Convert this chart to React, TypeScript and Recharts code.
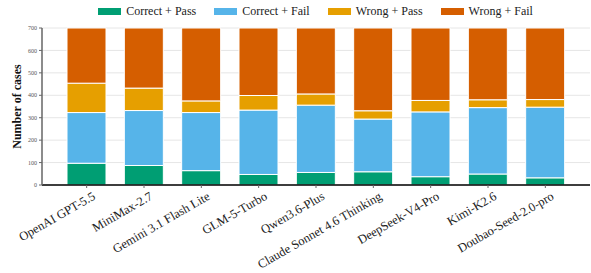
import React from "react";
import { BarChart, Bar, XAxis, YAxis, CartesianGrid, Legend } from "recharts";

const models = [
  "OpenAI GPT-5.5",
  "MiniMax-2.7",
  "Gemini 3.1 Flash Lite",
  "GLM-5-Turbo",
  "Qwen3.6-Plus",
  "Claude Sonnet 4.6 Thinking",
  "DeepSeek-V4-Pro",
  "Kimi-K2.6",
  "Doubao-Seed-2.0-pro",
];
const correctPass = [97, 87, 64, 47, 56, 59, 37, 49, 32];
const correctFail = [226, 245, 259, 287, 300, 235, 289, 296, 315];
const wrongPass = [131, 100, 52, 65, 50, 37, 51, 35, 34];
const wrongFail = [246, 268, 325, 301, 294, 369, 323, 320, 319];
const yTicks = [0, 100, 200, 300, 400, 500, 600, 700];

const series = [
  { key: "cp", name: "Correct + Pass", color: "#009E73" },
  { key: "cf", name: "Correct + Fail", color: "#56B4E9" },
  { key: "wp", name: "Wrong + Pass", color: "#E69F00" },
  { key: "wf", name: "Wrong + Fail", color: "#D55E00" },
];

const data = models.map((m, i) => ({
  model: m,
  cp: correctPass[i],
  cf: correctFail[i],
  wp: wrongPass[i],
  wf: wrongFail[i],
}));

const FONT = '"Liberation Serif", "Times New Roman", serif';

const XTick = (props: any) => {
  const { x, y, payload } = props;
  const ax = x + 5;
  const ay = y + 1;
  return (
    <text
      x={ax}
      y={ay}
      transform={`rotate(-30, ${ax}, ${ay})`}
      textAnchor="end"
      dominantBaseline="hanging"
      fontFamily={FONT}
      fontSize={12.5}
      fill="#222"
    >
      {payload.value}
    </text>
  );
};

const LegendContent = () => (
  <div
    style={{
      width: 591,
      height: 24,
      display: "flex",
      justifyContent: "center",
      paddingLeft: 58,
      boxSizing: "border-box",
      fontFamily: FONT,
      fontSize: 12,
      color: "#222",
    }}
  >
    {series.map((s) => (
      <div
        key={s.key}
        style={{ display: "flex", alignItems: "center", marginRight: 18, height: 24, marginTop: -1 }}
      >
        <span
          style={{ display: "inline-block", width: 23, height: 7, background: s.color, marginRight: 5 }}
        />
        <span>{s.name}</span>
      </div>
    ))}
  </div>
);

export default function App() {
  return (
    <div style={{ position: "absolute", left: 0, top: 0 }}>
      <BarChart
        width={591}
        height={273}
        data={data}
        margin={{ top: 4, right: 1, bottom: 0, left: 0 }}
        barSize={39}
      >
        <Legend verticalAlign="top" content={<LegendContent />} wrapperStyle={{ top: 0, left: 0 }} height={24} />
        <CartesianGrid vertical={false} stroke="#e6e6e6" strokeWidth={1} />
        <XAxis
          dataKey="model"
          interval={0}
          height={88}
          tick={<XTick />}
          tickSize={3}
          tickLine={{ stroke: "#666" }}
          axisLine={{ stroke: "#000", strokeWidth: 1.5 }}
          padding={{ left: 16, right: 16 }}
        />
        <YAxis
          width={42}
          domain={[0, 700]}
          ticks={yTicks}
          interval={0}
          tickSize={3}
          tickLine={{ stroke: "#666" }}
          axisLine={{ stroke: "#666", strokeWidth: 1.5 }}
          tick={{ fontSize: 6, fill: "#555", fontFamily: FONT }}
          label={{
            value: "Number of cases",
            angle: -90,
            position: "insideLeft",
            dx: 12,
            style: { fontFamily: FONT, fontWeight: "bold", fontSize: 12, fill: "#111", textAnchor: "middle" },
          }}
        />
        {series.map((s) => (
          <Bar
            key={s.key}
            dataKey={s.key}
            name={s.name}
            stackId="a"
            fill={s.color}
            stroke="#fff"
            strokeWidth={1}
            isAnimationActive={false}
          />
        ))}
      </BarChart>
    </div>
  );
}
